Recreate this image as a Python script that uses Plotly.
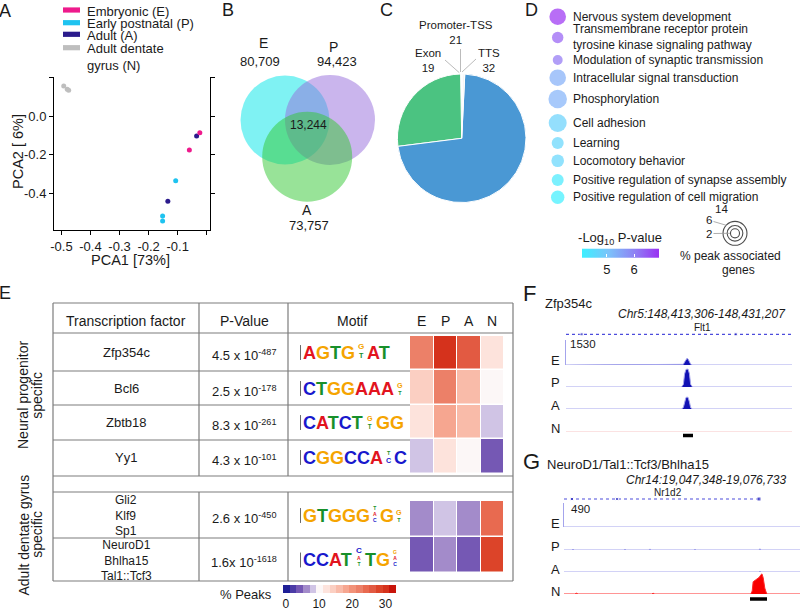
import plotly.graph_objects as go

W, H = 800, 611
FONT = "Liberation Sans, Arial, Helvetica, sans-serif"
LOGO_FONT = "Liberation Sans, Arial, sans-serif"
INK = "#1a1a1a"

# ---------------- data ----------------
# Panel A : PCA
pca_groups = ["Embryonic (E)", "Early postnatal (P)", "Adult (A)", "Adult dentate<br>gyrus (N)"]
pca_colors = ["#EE1A8C", "#1EC3F0", "#2B1B8C", "#BEBEBE"]
pca1_E = [-0.024, -0.060]
pca2_E = [-0.086, -0.176]
pca1_P = [-0.107, -0.152, -0.152]
pca2_P = [-0.335, -0.517, -0.543]
pca1_A = [-0.035, -0.134]
pca2_A = [-0.103, -0.441]
pca1_N = [-0.492, -0.480, -0.475]
pca2_N = [0.155, 0.138, 0.133]
pca_xticks = [-0.5, -0.4, -0.3, -0.2, -0.1, 0.0]
pca_xticklabels = ["-0.5", "-0.4", "-0.3", "-0.2", "-0.1", ""]
pca_yticks = [0.2, 0.0, -0.2, -0.4]
pca_yticklabels = ["", "0.0", "-0.2", "-0.4"]

# Panel B : Venn
venn_sets = ["E", "P", "A"]
venn_counts = [80709, 94423, 73757]
venn_shared = 13244

# Panel C : pie
pie_labels = ["Promoter-TSS", "Exon", "Intron", "Intergenic", "TTS"]
pie_values = [21, 19, 1850, 5000, 32]

# Panel D : GO terms
go_terms = ["Nervous system development",
            "Transmembrane receptor protein<br>tyrosine kinase signaling pathway",
            "Modulation of synaptic transmission",
            "Intracellular signal transduction",
            "Phosphorylation",
            "Cell adhesion",
            "Learning",
            "Locomotory behavior",
            "Positive regulation of synapse assembly",
            "Positive regulation of cell migration"]
go_neglogp = [6.9, 6.4, 6.15, 5.35, 5.3, 4.72, 4.66, 4.66, 4.2, 4.07]
go_pct_genes = [6.7, 3.2, 2.4, 6.7, 8.4, 7.9, 3.5, 3.9, 3.5, 4.4]
size_legend_pct = [14, 6, 2]
go_cbar_ticks = [5, 6]

# Panel E : motif table
tf_names = ["Zfp354c", "Bcl6", "Zbtb18", "Yy1", "Gli2<br>Klf9<br>Sp1", "NeuroD1<br>Bhlha15<br>Tal1::Tcf3"]
tf_pval_base = ["4.5 x 10", "2.5 x 10", "8.3 x 10", "4.3 x 10", "2.6 x 10", "1.6x 10"]
tf_pval_exp = ["-487", "-178", "-261", "-101", "-450", "-1618"]
stage_labels = ["E", "P", "A", "N"]
pct_peaks_E = [22, 14, 12, 7, 6, 4.5]
pct_peaks_P = [30, 22, 18.5, 12.5, 8, 6.5]
pct_peaks_A = [26, 16, 16, 10, 6, 4.8]
pct_peaks_N = [12, 10, 7.2, 4, 24, 28]
peaks_cbar_ticks = [0, 10, 20, 30]
# each column: stack from bottom to top, (base, relative height)
motif_columns = [
    [[("A", 1)], [("G", 1)], [("T", 1)], [("G", 1)], [("T", .4), ("G", .45)], [("A", 1)], [("T", 1)]],
    [[("C", 1)], [("T", 1)], [("G", 1)], [("G", 1)], [("A", 1)], [("A", 1)], [("A", 1)], [("T", .3), ("G", .4)]],
    [[("C", 1)], [("A", 1)], [("T", 1)], [("C", 1)], [("T", 1)], [("T", .35), ("G", .4)], [("G", 1)], [("G", 1)]],
    [[("C", 1)], [("G", 1)], [("G", 1)], [("C", 1)], [("C", 1)], [("A", 1)], [("C", .4), ("T", .3)], [("C", 1)]],
    [[("G", 1)], [("T", 1)], [("G", 1)], [("G", 1)], [("G", 1)], [("C", .1), ("A", .12), ("T", .15)], [("G", 1)], [("T", .3), ("G", .4)]],
    [[("C", 1)], [("C", 1)], [("A", 1)], [("T", 1)], [("T", .08), ("A", .15), ("C", .45)], [("T", 1)], [("G", 1)], [("C", .08), ("A", .08), ("G", .12)]],
]
base_colors = {"A": "#E2141E", "C": "#1818CC", "G": "#F5A400", "T": "#17902A"}

# Panel F : Zfp354c browser tracks
F_region = [148413306, 148431207]
F_pos = [148413306, 148422450, 148422600, 148422700, 148422800, 148422890, 148422980, 148423080, 148423180, 148423330, 148431207]
F_E = [0, 0, 40, 180, 340, 410, 360, 200, 50, 0, 0]
F_P = [0, 0, 150, 800, 1060, 1100, 1080, 820, 160, 0, 0]
F_A = [0, 0, 90, 430, 690, 735, 700, 440, 80, 0, 0]
F_pos_N = [148413306, 148431207]
F_N = [0, 0]
F_gene_exons = [148414549, 148426746]
F_peak_call = [148422573, 148423365]
F_scale_max = 1530

# Panel G : NeuroD1 browser tracks
G_region = [19047348, 19076733]
G_pos_E = [19047348, 19076733]
G_E = [0, 0]
G_pos_P = [19047348, 19048350, 19048470, 19048590, 19054820, 19054940, 19055060, 19057930, 19058050,
           19058170, 19063540, 19063660, 19063780, 19071630, 19071750, 19071870, 19076733]
G_P = [0, 0, 18, 0, 0, 20, 0, 0, 22, 0, 0, 15, 0, 0, 25, 0, 0]
G_pos_A = [19047348, 19054820, 19054940, 19055060, 19066650, 19066770, 19066890, 19071630, 19071750, 19071870, 19076733]
G_A = [0, 0, 14, 0, 0, 12, 0, 0, 18, 0, 0]
G_pos_N = [19047348, 19048700, 19048900, 19049100, 19058250, 19058450, 19058650, 19070600, 19070780, 19070900,
           19071150, 19071400, 19071650, 19071900, 19072000, 19072150, 19072350, 19072550, 19072700, 19076733]
G_N = [0, 0, 16, 0, 0, 14, 0, 0, 60, 250, 280, 310, 340, 400, 410, 330, 120, 20, 0, 0]
G_gene_span = [19047348, 19071753]
G_gene_exons = [19048344, 19053947, 19071628]
G_peak_call = [19070509, 19072626]
G_scale_max = 490


# ---------------- helpers ----------------
def X(px):
    return px / W


def Y(py):
    return 1 - py / H


annotations = []
shapes = []


def ann(x, y, text, size=13, xa="center", ya="middle", color=INK, family=FONT, **kw):
    d = dict(x=X(x), y=Y(y), xref="paper", yref="paper", text=text, showarrow=False,
             xanchor=xa, yanchor=ya, font=dict(size=size, color=color, family=family))
    d.update(kw)
    annotations.append(d)


def hline(x0, x1, y, color="#7c7c7c", width=1.2):
    shapes.append(dict(type="line", xref="paper", yref="paper", x0=X(x0), x1=X(x1), y0=Y(y), y1=Y(y),
                       line=dict(color=color, width=width)))


def vline(x, y0, y1, color="#7c7c7c", width=1.2):
    shapes.append(dict(type="line", xref="paper", yref="paper", x0=X(x), x1=X(x), y0=Y(y0), y1=Y(y1),
                       line=dict(color=color, width=width)))


fig = go.Figure()
axes = {}
hidden = dict(visible=False, showgrid=False, zeroline=False)

# ---------------- Panel A ----------------
for xs, ys, col in ((pca1_N, pca2_N, pca_colors[3]), (pca1_P, pca2_P, pca_colors[1]),
                    (pca1_A, pca2_A, pca_colors[2]), (pca1_E, pca2_E, pca_colors[0])):
    fig.add_trace(go.Scatter(x=xs, y=ys, mode="markers", marker=dict(color=col, size=5),
                             xaxis="x", yaxis="y", hoverinfo="skip", showlegend=False))
axes["xaxis"] = dict(domain=[X(54), X(210)], range=[-0.5255, 0.011], tickvals=pca_xticks,
                     ticktext=pca_xticklabels, ticks="outside", ticklen=4, tickcolor="black",
                     showline=True, linecolor="black", linewidth=1, showgrid=False, zeroline=False,
                     tickfont=dict(size=13, color=INK), anchor="y")
axes["yaxis"] = dict(domain=[Y(230), Y(77)], range=[-0.59, 0.202], tickvals=pca_yticks,
                     ticktext=pca_yticklabels, ticks="outside", ticklen=4, tickcolor="black",
                     showline=True, mirror="ticks", linecolor="black", linewidth=1, showgrid=False,
                     zeroline=False, tickfont=dict(size=13, color=INK), anchor="x")
ann(130, 260, "PCA1 [73%]", size=14.5)
ann(18, 152, "PCA2 [ 6%]", size=14.5, textangle=-90)
legend_rows = [10, 22.7, 34.3, 47.7]
for name, col, yy in zip(pca_groups, pca_colors, legend_rows):
    shapes.append(dict(type="rect", xref="paper", yref="paper", x0=X(63), x1=X(80), y0=Y(yy + 2.6),
                       y1=Y(yy - 2.6), fillcolor=col, line=dict(width=0)))
    ann(85, yy - 8.5, name, xa="left", ya="top", align="left")

# ---------------- Panel B (Venn) ----------------
venn_geom = [(285, 120, 44.5, "rgba(0,230,232,0.5)"), (330, 120, 45, "rgba(150,108,220,0.5)"),
             (307.2, 156.7, 45, "rgba(50,200,50,0.5)")]
for cx, cy, r, col in venn_geom:
    shapes.append(dict(type="circle", xref="paper", yref="paper", x0=X(cx - r), x1=X(cx + r),
                       y0=Y(cy + r), y1=Y(cy - r), fillcolor=col, line=dict(width=0), layer="below"))
ann(263, 43, venn_sets[0], size=14)
ann(259.7, 61.7, f"{venn_counts[0]:,}")
ann(333.7, 47, venn_sets[1], size=14)
ann(337, 61.7, f"{venn_counts[1]:,}")
ann(308, 125, f"{venn_shared:,}", size=12)
ann(306.7, 210, venn_sets[2], size=14)
ann(309.3, 225, f"{venn_counts[2]:,}")

# ---------------- Panel C (pie) ----------------
fig.add_trace(go.Pie(labels=pie_labels, values=pie_values, sort=False, direction="counterclockwise",
                     rotation=0, marker=dict(colors=["#F2F2F2", "#F2F2F2", "#4BC381", "#4A98D4", "#F2F2F2"],
                                             line=dict(color="white", width=1)),
                     textinfo="none", hoverinfo="skip", showlegend=False,
                     domain=dict(x=[X(397.4), X(526)], y=[Y(202.6), Y(74)])))
for (x0, y0, x1, y1) in [(459.3, 72.7, 445, 60), (460.5, 72, 460.5, 49), (462, 72, 476, 59)]:
    shapes.append(dict(type="line", xref="paper", yref="paper", x0=X(x0), y0=Y(y0), x1=X(x1), y1=Y(y1),
                       line=dict(color="#BBBBBB", width=1)))
ann(456, 32.5, f"{pie_labels[0]}<br>{pie_values[0]}", size=11.5)
ann(428, 60.5, f"{pie_labels[1]}<br>{pie_values[1]}", size=11.5)
ann(489, 60.5, f"{pie_labels[4]}<br>{pie_values[4]}", size=11.5)

# ---------------- Panel D (GO bubbles) ----------------
go_row_px = [16.7, 37.5, 60, 77.7, 99, 123, 143, 160.7, 180, 197.3]   # layout rows (pixels from top)
ring_row_px = 233.3
SREF = 1 / (2 * 3.2 ** 2)
go_colorscale = [[0, "#3CF0FF"], [0.35, "#7CC2FA"], [0.7, "#8F7EF4"], [1, "#9A30F2"]]
fig.add_trace(go.Scatter(
    x=[557.7] * len(go_terms), y=go_row_px, mode="markers", xaxis="x3", yaxis="y3", hoverinfo="skip",
    showlegend=False,
    marker=dict(size=go_pct_genes, sizemode="area", sizeref=SREF, color=go_neglogp,
                colorscale=go_colorscale, cmin=4.07, cmax=6.9, line=dict(width=0),
                colorbar=dict(orientation="h", x=X(620), xanchor="center", y=Y(232), yanchor="top",
                              len=76.6, lenmode="pixels", thickness=9, xpad=0, ypad=0,
                              tickvals=go_cbar_ticks, ticks="inside", tickcolor="white", ticklen=3,
                              outlinewidth=0, tickfont=dict(size=13, color=INK, family=FONT),
                              title=dict(text="-Log<sub>10</sub> P-value", side="top",
                                         font=dict(size=13, color=INK, family=FONT))))))
fig.add_trace(go.Scatter(
    x=[735] * 3, y=[ring_row_px] * 3, mode="markers", xaxis="x3", yaxis="y3", hoverinfo="skip",
    showlegend=False, cliponaxis=False,
    marker=dict(size=size_legend_pct, sizemode="area", sizeref=SREF, symbol="circle-open",
                color="black", line=dict(width=1.1, color="black"))))
for term, yy in zip(go_terms, go_row_px):
    annotations.append(dict(x=571, y=yy, xref="x3", yref="y3", text=term, align="left",
                            showarrow=False, xanchor="left", yanchor="middle",
                            font=dict(size=12, color=INK, family=FONT)))
ann(721.5, 209.5, str(size_legend_pct[0]), size=11.5)
ann(709, 220.5, str(size_legend_pct[1]), size=11.5)
ann(709, 234, str(size_legend_pct[2]), size=11.5)
for (x0, y0, x1, y1) in [(713.5, 221.5, 727, 225.5), (713.5, 233.5, 730, 233.3)]:
    shapes.append(dict(type="line", xref="paper", yref="paper", x0=X(x0), y0=Y(y0), x1=X(x1), y1=Y(y1),
                       line=dict(color="#999999", width=0.8)))
ann(730, 256, "% peak associated", size=12)
ann(738, 270, "genes", size=12)
axes["xaxis3"] = dict(domain=[X(540), 1], range=[540, 800], anchor="y3", **hidden)
axes["yaxis3"] = dict(domain=[Y(245), Y(6.67)], range=[245, 6.67], anchor="x3", **hidden)

# ---------------- Panel E (table + heatmap) ----------------
step_colors = ["#1e1e96", "#4b3ba6", "#7558b4", "#a38bca", "#d0c4e5", "#fcf7f7", "#fde3dc", "#fbcfc2",
               "#f9bba9", "#f6a690", "#f29279", "#ec8068", "#e86a50", "#e25a42", "#dc4429", "#d5321c",
               "#c8140a"]
zmin, zmax = -1, 33
cs = []
for i, c in enumerate(step_colors):
    lo = (2 * i) / (zmax - zmin)
    hi = (2 * i + 2) / (zmax - zmin)
    cs += [[lo, c], [min(hi, 1), c]]
z_rows = [[pct_peaks_E[r], pct_peaks_P[r], pct_peaks_A[r], pct_peaks_N[r]] for r in range(6)]
z_grid = z_rows[:4] + [[None, None, None, None]] + z_rows[4:]
row_edges = [0, 0.99, 1.99, 2.98, 3.98, 4.76, 5.82, 6.85]
fig.add_trace(go.Heatmap(
    z=z_grid, x=[0, 1, 2, 3, 4], y=row_edges, colorscale=cs, zmin=zmin, zmax=zmax, xgap=1, ygap=1.5,
    xaxis="x2", yaxis="y2", hoverinfo="skip",
    colorbar=dict(orientation="h", x=X(339), xanchor="center", y=Y(585), yanchor="top", len=113.4,
                  lenmode="pixels", thickness=7.7, xpad=0, ypad=0, tickvals=peaks_cbar_ticks, ticks="",
                  outlinewidth=0, tickfont=dict(size=12, color=INK, family=FONT))))
axes["xaxis2"] = dict(domain=[X(410), X(504)], range=[0, 4], anchor="y2", **hidden)
axes["yaxis2"] = dict(domain=[Y(573), Y(336)], range=[6.85, 0], anchor="x2", **hidden)
for i, s in enumerate(stage_labels):
    annotations.append(dict(x=i + 0.5, y=Y(321), xref="x2", yref="paper", text=s, showarrow=False,
                            xanchor="center", yanchor="middle", font=dict(size=14, color=INK, family=FONT)))
ann(246, 594.5, "% Peaks")

# table lines
for yy in (303, 333, 476, 492, 581):
    hline(53, 513, yy)
for yy in (371, 405, 440, 538):
    hline(53, 410, yy)
vline(53, 303, 581)
vline(513, 303, 581)
for xx in (199, 288):
    vline(xx, 303, 476)
    vline(xx, 492, 581)
ann(126, 320.5, "Transcription factor", size=14)
ann(244, 320.5, "P-Value", size=14)
ann(352, 320.5, "Motif", size=14)

ADV = {"A": 0.722, "C": 0.722, "G": 0.778, "T": 0.611}   # bold advance widths (em)
FULL = 18.0
row_centers = [352.5, 388.5, 422.5, 457.5, 515.5, 560]
for r, rc in enumerate(row_centers):
    multi = "<br>" in tf_names[r]
    ann(126, rc, tf_names[r], size=12 if multi else 13)
    ann(244, rc + 2, f"{tf_pval_base[r]}<sup>{tf_pval_exp[r]}</sup>")
    # sequence logo: runs of full letters as one text, stacked columns as one multi-line text
    base = rc + 0.5 * 0.716 * FULL
    vline(300.5, base - 0.716 * FULL - 1, base + 1, color="#444444", width=0.8)
    groups = []
    for stack in motif_columns[r]:
        if len(stack) == 1 and stack[0][1] == 1:
            if groups and groups[-1][0] == "run":
                groups[-1][1].append(stack[0][0])
            else:
                groups.append(["run", [stack[0][0]]])
        else:
            groups.append(["stack", stack])
    x = 303.0
    for kind, content in groups:
        if kind == "run":
            txt = "<b>" + "".join(f"<span style='color:{base_colors[L]}'>{L}</span>" for L in content) + "</b>"
            ann(x, base + 0.2 * FULL, txt, size=FULL, xa="left", ya="bottom", family=LOGO_FONT,
                borderpad=0, borderwidth=0)
            x += sum(ADV[L] for L in content) * FULL + 3.0
        else:
            top_down = list(reversed(content))
            sizes = [max(FULL * h, 5.0) for _, h in top_down]
            width = max(ADV[L] * s for (L, _), s in zip(top_down, sizes))
            step = max(0.905 * sizes[i + 1] + 0.212 * sizes[i] for i in range(len(sizes) - 1)) + 0.3
            txt = "<b>" + "<br>".join(
                f"<span style='color:{base_colors[L]};font-size:{s:.1f}px'>{L}</span>"
                for (L, _), s in zip(top_down, sizes)) + "</b>"
            ann(x + width / 2, base + 0.2 * sizes[-1], txt, size=step / 1.3, xa="center", ya="bottom",
                family=LOGO_FONT, borderpad=0, borderwidth=0)
            x += width + 3.0
ann(23, 395, "Neural progenitor", size=14, textangle=-90)
ann(36.7, 395, "specific", size=14, textangle=-90)
ann(23, 535.5, "Adult dentate gyrus", size=14, textangle=-90)
ann(36.7, 534, "specific", size=14, textangle=-90)

# ---------------- Panels F and G (browser tracks) ----------------
TRACK_LINE = "#A4A4EC"
TRACK_FILL = "#1212B4"


def add_tracks(xname, first_y, region, x_left, x_right, baselines, height, vmax, tracks, gene_y, gene_span,
               exons, exon_sizes):
    axes["xaxis" + xname[1:]] = dict(domain=[X(x_left), X(x_right)], range=region, anchor="y" + str(first_y),
                                     **hidden)
    for k, (b, (pos, val, lc, fc)) in enumerate(zip(baselines, tracks)):
        yn = first_y + k
        ax = dict(domain=[Y(b), Y(b - height)], range=[0, vmax], anchor=xname, showgrid=False, zeroline=False)
        if k == 0:
            ax.update(visible=True, showline=True, linecolor=TRACK_LINE, linewidth=1, ticks="",
                      showticklabels=False)
        else:
            ax.update(visible=False)
        axes["yaxis" + str(yn)] = ax
        fig.add_trace(go.Scatter(x=pos, y=val, mode="lines", fill="tozeroy", fillcolor=fc,
                                 line=dict(color=lc, width=1), xaxis=xname, yaxis="y" + str(yn),
                                 hoverinfo="skip", showlegend=False, cliponaxis=False))
    gy = first_y + len(baselines)
    axes["yaxis" + str(gy)] = dict(domain=[Y(gene_y + 4), Y(gene_y - 4)], range=[-1, 1], anchor=xname, **hidden)
    fig.add_trace(go.Scatter(x=gene_span, y=[0, 0], mode="lines", line=dict(color="#4C4CDC", width=1.2, dash="dot"),
                             xaxis=xname, yaxis="y" + str(gy), hoverinfo="skip", showlegend=False))
    fig.add_trace(go.Scatter(x=exons, y=[0] * len(exons), mode="markers",
                             marker=dict(symbol="square", size=exon_sizes, color="#2020BE"),
                             xaxis=xname, yaxis="y" + str(gy), hoverinfo="skip", showlegend=False))


add_tracks("x4", 4, F_region, 566, 792, [365, 387, 409, 432], 25, F_scale_max,
           [(F_pos, F_E, TRACK_LINE, TRACK_FILL), (F_pos, F_P, TRACK_LINE, TRACK_FILL),
            (F_pos, F_A, TRACK_LINE, TRACK_FILL), (F_pos_N, F_N, "#F6C4C4", "#F00000")],
           334.3, F_region, F_gene_exons, [3, 3])
add_tracks("x5", 9, G_region, 564, 800, [527, 550, 572, 594], 24, G_scale_max,
           [(G_pos_E, G_E, TRACK_LINE, TRACK_FILL), (G_pos_P, G_P, TRACK_LINE, TRACK_FILL),
            (G_pos_A, G_A, TRACK_LINE, TRACK_FILL), (G_pos_N, G_N, "#FF2A2A", "#F80000")],
           499, G_gene_span, G_gene_exons, [3, 3, 4])
shapes.append(dict(type="line", xref="x4", yref="paper", x0=F_peak_call[0], x1=F_peak_call[1],
                   y0=Y(435.5), y1=Y(435.5), line=dict(color="black", width=3.5)))
shapes.append(dict(type="line", xref="x5", yref="paper", x0=G_peak_call[0], x1=G_peak_call[1],
                   y0=Y(599), y1=Y(599), line=dict(color="black", width=3.5)))

ann(529, 293.5, "F", size=22)
ann(543, 303, "Zfp354c", xa="left")
ann(788, 313.5, f"<i>Chr5:{F_region[0]:,}-{F_region[1]:,}</i>", size=12, xa="right")
ann(702, 327, "Flt1", size=10)
ann(568, 344, f"{F_scale_max}", size=11.5, xa="left")
for lab, yy in zip(stage_labels, [360, 382, 405, 428]):
    ann(562, yy, lab, xa="right")

ann(531.5, 461, "G", size=22)
ann(545, 464, "NeuroD1/Tal1::Tcf3/Bhlha15", xa="left")
ann(788, 480, f"<i>Chr14:{G_region[0]:,}-{G_region[1]:,}</i>", size=12, xa="right")
ann(668, 492, "Nr1d2", size=10)
ann(569, 509, f"{G_scale_max}", size=11.5, xa="left")
for lab, yy in zip(stage_labels, [523, 546, 569, 591]):
    ann(562, yy, lab, xa="right")

# ---------------- panel letters ----------------
ann(4.5, 11, "A", size=18)
ann(228, 10, "B", size=18)
ann(386, 10, "C", size=18)
ann(531, 10, "D", size=18)
ann(5, 293, "E", size=18)

fig.update_layout(
    width=W, height=H, margin=dict(l=0, r=0, t=0, b=0, autoexpand=False), autosize=False,
    paper_bgcolor="white", plot_bgcolor="rgba(0,0,0,0)", showlegend=False,
    font=dict(family=FONT, size=13, color=INK),
    annotations=annotations, shapes=shapes, **axes)

fig.write_html("out.html", config={"displayModeBar": False},
               post_script="document.body.style.margin='0px';document.body.style.padding='0px';")
